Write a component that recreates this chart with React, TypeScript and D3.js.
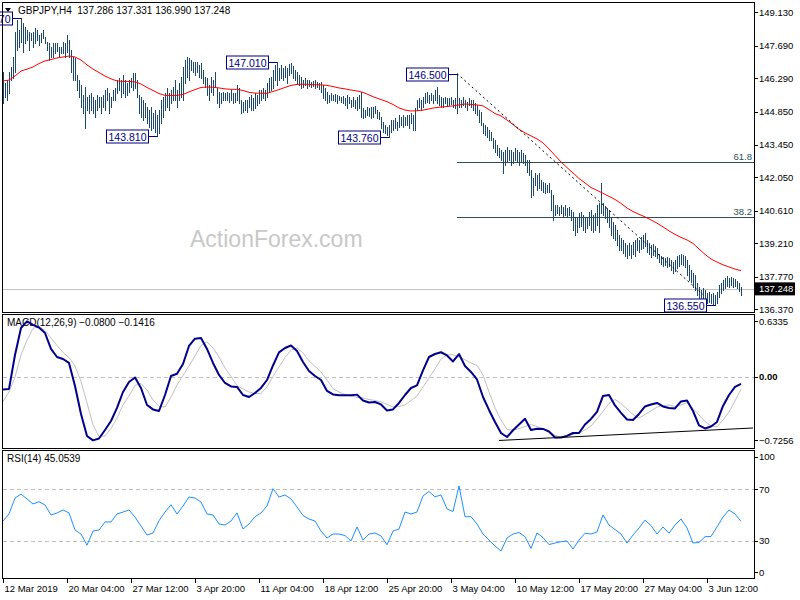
import React, { useEffect, useRef } from 'react';
import * as d3 from 'd3';

const W = 800;
const H = 600;
const STEP = 3; // indicator lines are read every 3 bars
const FONT = 'Liberation Sans, Arial, sans-serif';

// GBPJPY H4 bars, 12 Mar 20:00 .. 6 Jun 08:00
const barHigh = [
  146.56, 146.09, 146.22, 146.56, 146.78, 147.21, 148.28, 148.8, 148.37, 148.87,
  148.67, 148.5, 148.37, 148.28, 148.24, 148.28, 148.46, 148.37, 148.16, 148.24,
  148.37, 148.07, 147.85, 147.81, 147.64, 147.81, 147.81, 147.81, 147.64, 147.64,
  147.85, 147.81, 148.16, 147.94, 147.51, 147.21, 147.17, 146.44, 146.22, 146.01,
  145.58, 145.92, 145.49, 145.58, 145.66, 145.49, 145.36, 145.58, 145.49, 145.49,
  145.58, 145.79, 145.88, 145.66, 145.49, 145.79, 145.88, 146.22, 146.31, 146.22,
  146.44, 146.22, 146.09, 146.22, 146.31, 146.52, 146.52, 146.22, 145.58, 145.49,
  145.36, 145.23, 145.06, 144.93, 145.06, 144.8, 144.93, 144.72, 144.93, 145.36,
  145.49, 145.66, 145.88, 145.66, 145.79, 145.92, 146.22, 145.79, 146.09, 146.35,
  146.78, 147.08, 147.21, 147.17, 147.08, 146.99, 146.99, 146.99, 146.87, 146.95,
  146.65, 146.35, 146.31, 146.01, 146.35, 146.22, 146.56, 145.88, 145.7, 145.66,
  145.7, 145.66, 145.7, 145.66, 145.79, 145.66, 145.66, 146.01, 145.88, 145.36,
  145.27, 145.36, 145.36, 145.49, 145.58, 145.45, 145.66, 145.58, 145.79, 145.79,
  145.88, 145.79, 146.09, 146.31, 146.35, 146.65, 146.87, 147.01, 146.74, 146.87,
  146.74, 146.82, 146.74, 146.91, 146.95, 146.82, 146.65, 146.56, 146.44, 146.35,
  146.22, 146.31, 146.22, 146.22, 146.13, 146.18, 146.22, 146.13, 146.09, 146.13,
  146.01, 145.88, 145.7, 145.58, 145.66, 145.58, 145.62, 145.58, 145.53, 145.49,
  145.53, 145.45, 145.58, 145.49, 145.36, 145.49, 145.36, 145.49, 145.58, 145.7,
  145.02, 144.93, 145.06, 145.02, 145.06, 145.06, 145.1, 144.93, 144.84, 144.63,
  144.41, 144.29, 144.2, 144.29, 144.5, 144.5, 144.59, 144.41, 144.72, 144.63,
  144.72, 144.63, 144.72, 144.72, 144.8, 144.72, 145.02, 145.36, 145.45, 145.36,
  145.49, 145.66, 145.7, 145.58, 145.66, 145.58, 145.79, 145.92, 145.58, 145.49,
  145.45, 145.49, 145.45, 145.45, 145.49, 145.36, 145.45, 146.5, 145.45, 145.36,
  145.49, 145.36, 145.27, 145.45, 145.36, 145.36, 145.23, 145.15, 144.93, 144.84,
  144.37, 144.29, 144.2, 144.07, 143.98, 143.73, 143.64, 143.43, 143.3, 143.21,
  143.12, 143.21, 143.34, 143.21, 143.21, 143.12, 143.3, 143.21, 143.12, 143.21,
  143.08, 143.0, 142.78, 142.78, 142.35, 142.01, 142.22, 142.14, 142.22, 141.92,
  141.83, 141.79, 141.71, 141.79, 141.49, 141.28, 140.85, 140.85, 140.76, 140.85,
  140.76, 140.85, 140.72, 140.76, 140.63, 140.54, 140.33, 140.29, 140.5, 140.54,
  140.42, 140.33, 140.29, 140.54, 140.63, 140.42, 140.5, 140.85, 140.93, 141.79,
  140.93, 140.8, 140.72, 140.63, 140.29, 140.11, 139.99, 139.77, 139.56, 139.43,
  139.34, 139.21, 139.13, 139.21, 139.13, 139.25, 139.34, 139.43, 139.34, 139.47,
  139.56, 139.64, 139.34, 139.21, 139.13, 139.17, 139.08, 139.0, 138.74, 138.65,
  138.61, 138.57, 138.61, 138.57, 138.48, 138.39, 138.48, 138.65, 138.7, 138.74,
  138.7, 138.65, 138.48, 138.27, 138.05, 137.92, 137.84, 137.49, 137.32, 137.19,
  137.28, 137.19, 137.06, 137.1, 137.02, 137.06, 136.98, 137.1, 137.41, 137.49,
  137.62, 137.71, 137.79, 137.71, 137.75, 137.71, 137.66, 137.58, 137.49, 137.331,
];

const barLow = [
  145.23, 145.49, 145.36, 145.66, 146.22, 146.31, 146.56, 147.51, 147.64, 147.85,
  147.42, 147.81, 147.94, 147.51, 147.94, 147.64, 147.81, 147.94, 147.73, 147.85,
  148.03, 147.81, 147.51, 147.08, 147.21, 147.21, 147.38, 147.47, 147.21, 147.38,
  147.38, 147.21, 147.42, 147.21, 146.56, 146.22, 146.22, 145.79, 145.49, 145.06,
  144.8, 144.16, 144.93, 144.8, 144.93, 144.8, 144.63, 144.93, 145.06, 144.8,
  145.06, 144.93, 145.36, 144.8, 145.06, 145.36, 145.36, 145.66, 145.79, 145.49,
  145.66, 145.49, 145.58, 145.7, 145.92, 145.79, 145.88, 145.49, 144.8, 144.63,
  144.5, 144.63, 144.37, 144.2, 144.07, 144.16, 143.98, 143.81, 143.94, 144.37,
  144.63, 144.93, 145.06, 144.93, 145.23, 145.36, 145.36, 145.06, 145.36, 145.49,
  145.36, 146.09, 146.35, 146.22, 146.65, 146.56, 146.44, 146.56, 146.35, 146.31,
  146.09, 145.92, 145.58, 145.36, 145.7, 145.58, 145.92, 145.23, 145.06, 145.23,
  145.36, 145.36, 145.36, 145.27, 145.36, 145.23, 145.27, 145.36, 145.23, 144.8,
  144.84, 144.93, 144.84, 145.06, 144.93, 144.93, 145.02, 145.15, 145.23, 145.36,
  145.45, 145.36, 145.49, 145.7, 145.79, 145.88, 146.22, 146.01, 146.22, 146.31,
  146.22, 146.35, 146.09, 146.44, 146.52, 146.31, 146.22, 146.09, 146.01, 145.88,
  145.92, 146.01, 145.88, 145.96, 145.92, 145.96, 145.88, 145.92, 145.83, 145.7,
  145.45, 145.36, 145.23, 145.27, 145.36, 145.36, 145.32, 145.23, 145.36, 145.27,
  145.23, 145.15, 145.02, 145.23, 145.06, 145.1, 145.02, 144.93, 145.02, 144.63,
  144.59, 144.63, 144.72, 144.67, 144.59, 144.63, 144.8, 144.59, 144.54, 144.16,
  143.98, 143.94, 143.86, 143.76, 143.98, 144.07, 144.16, 144.07, 144.2, 144.29,
  144.2, 144.29, 144.29, 144.16, 144.37, 144.07, 144.07, 144.93, 145.06, 144.93,
  145.06, 145.23, 145.27, 145.23, 145.36, 145.23, 145.36, 145.23, 145.15, 145.06,
  145.06, 145.23, 145.15, 145.15, 145.19, 145.06, 145.02, 144.8, 145.06, 145.06,
  145.15, 145.06, 144.93, 145.15, 145.06, 144.93, 144.8, 144.72, 144.41, 144.29,
  143.94, 143.86, 143.77, 143.64, 143.64, 143.3, 143.12, 143.0, 142.91, 142.78,
  142.22, 142.57, 142.69, 142.78, 142.57, 142.65, 142.78, 142.69, 142.57, 142.69,
  142.65, 142.57, 142.26, 142.14, 141.19, 141.28, 141.71, 141.49, 141.58, 141.49,
  141.4, 141.36, 141.4, 141.4, 140.63, 140.2, 140.42, 140.5, 140.42, 140.5,
  140.33, 140.42, 140.33, 140.42, 140.2, 139.77, 139.56, 139.68, 139.9, 139.94,
  139.77, 139.68, 139.86, 139.99, 139.77, 139.68, 139.77, 139.99, 139.68, 140.5,
  140.42, 140.29, 140.11, 139.9, 139.56, 139.43, 139.34, 139.13, 138.91, 138.91,
  138.78, 138.65, 138.57, 138.7, 138.57, 138.74, 138.65, 138.91, 138.82, 138.95,
  138.99, 139.08, 138.82, 138.74, 138.61, 138.7, 138.65, 138.57, 138.39, 138.31,
  138.22, 138.27, 138.18, 138.22, 138.05, 137.92, 138.01, 138.14, 138.22, 138.31,
  138.27, 138.18, 137.84, 137.62, 137.53, 137.32, 137.19, 136.98, 136.85, 136.76,
  136.67, 136.76, 136.63, 136.67, 136.63, 136.59, 136.55, 136.63, 136.89, 137.06,
  137.19, 137.28, 137.36, 137.32, 137.41, 137.32, 137.36, 137.28, 137.15, 136.99,
];

const lastBar = { open: 137.286, high: 137.331, low: 136.99, close: 137.248 };

// moving average (red), every STEP bars
const maLine = [
  146.18, 146.22, 146.39, 146.61, 146.69, 146.78, 146.93, 147.04, 147.1, 147.17,
  147.21, 147.25, 147.21, 147.08, 146.87, 146.69, 146.54, 146.39, 146.27, 146.18,
  146.16, 146.16, 146.14, 146.05, 145.9, 145.77, 145.64, 145.56, 145.56, 145.56,
  145.6, 145.71, 145.81, 145.9, 145.92, 145.91, 145.88, 145.84, 145.82, 145.82,
  145.77, 145.69, 145.66, 145.65, 145.65, 145.73, 145.81, 145.9, 145.99, 146.03,
  146.04, 146.03, 146.02, 146.01, 145.99, 145.94, 145.88, 145.84, 145.79, 145.75,
  145.69, 145.58, 145.47, 145.38, 145.29, 145.17, 145.02, 144.93, 144.89, 144.9,
  144.93, 144.98, 145.03, 145.06, 145.08, 145.11, 145.15, 145.19, 145.17, 145.15,
  145.11, 144.95, 144.78, 144.68, 144.5, 144.31, 144.1, 143.95, 143.82, 143.69,
  143.52, 143.26, 142.98, 142.7, 142.46, 142.23, 141.99, 141.8, 141.6, 141.48,
  141.35, 141.22, 141.09, 140.92, 140.72, 140.57, 140.45, 140.34, 140.21, 140.07,
  139.91, 139.74, 139.59, 139.46, 139.35, 139.2, 138.96, 138.73, 138.53, 138.4,
  138.28, 138.19, 138.1, 138.03,
];

const macdMain = [
  -0.145, -0.139, 0.249, 0.557, 0.633, 0.592, 0.563, 0.5, 0.318, 0.226,
  0.203, 0.158, -0.105, -0.425, -0.676, -0.726, -0.705, -0.608, -0.505, -0.356,
  -0.174, -0.059, -0.008, -0.128, -0.322, -0.373, -0.391, -0.208, 0.009, 0.035,
  0.146, 0.352, 0.435, 0.443, 0.318, 0.158, 0.021, -0.071, -0.111, -0.116,
  -0.208, -0.231, -0.185, -0.128, -0.037, 0.129, 0.278, 0.329, 0.357, 0.295,
  0.169, 0.066, 0.009, -0.037, -0.162, -0.202, -0.211, -0.211, -0.211, -0.204,
  -0.271, -0.294, -0.288, -0.316, -0.385, -0.373, -0.299, -0.208, -0.128, -0.099,
  0.072, 0.226, 0.26, 0.28, 0.243, 0.175, 0.26, 0.123, 0.055, -0.031,
  -0.231, -0.379, -0.516, -0.642, -0.688, -0.611, -0.545, -0.479, -0.608, -0.593,
  -0.596, -0.625, -0.693, -0.693, -0.676, -0.642, -0.642, -0.545, -0.482, -0.402,
  -0.219, -0.208, -0.328, -0.413, -0.488, -0.493, -0.425, -0.339, -0.316, -0.299,
  -0.339, -0.356, -0.362, -0.282, -0.271, -0.391, -0.556, -0.59, -0.568, -0.516,
  -0.333, -0.208, -0.116, -0.08,
];

const macdSignal = [
  -0.282, -0.174, -0.002, 0.249, 0.42, 0.552, 0.574, 0.529, 0.443, 0.357,
  0.278, 0.22, 0.123, -0.054, -0.299, -0.55, -0.682, -0.676, -0.59, -0.471,
  -0.322, -0.219, -0.099, -0.077, -0.151, -0.265, -0.339, -0.345, -0.231, -0.094,
  0.015, 0.123, 0.238, 0.357, 0.397, 0.329, 0.226, 0.101, 0.003, -0.099,
  -0.139, -0.174, -0.191, -0.191, -0.116, 0.003, 0.112, 0.22, 0.306, 0.329,
  0.272, 0.18, 0.118, 0.055, -0.037, -0.136, -0.174, -0.202, -0.219, -0.236,
  -0.242, -0.259, -0.271, -0.286, -0.316, -0.345, -0.339, -0.322, -0.271, -0.219,
  -0.116, -0.014, 0.089, 0.203, 0.249, 0.252, 0.226, 0.195, 0.158, 0.129,
  0.021, -0.174, -0.356, -0.493, -0.602, -0.608, -0.593, -0.568, -0.547, -0.568,
  -0.59, -0.625, -0.67, -0.685, -0.674, -0.659, -0.642, -0.608, -0.562, -0.482,
  -0.396, -0.305, -0.259, -0.305, -0.368, -0.431, -0.471, -0.431, -0.391, -0.345,
  -0.328, -0.322, -0.339, -0.322, -0.296, -0.362, -0.436, -0.511, -0.562, -0.573,
  -0.493, -0.402, -0.276, -0.1416,
];

const rsiLine = [
  45.3, 50.8, 63.2, 66.3, 62.5, 58.6, 60.3, 57.8, 50.0, 51.6,
  53.9, 51.6, 38.3, 35.2, 26.5, 37.5, 38.3, 44.6, 44.6, 50.8,
  52.3, 53.9, 48.4, 41.4, 34.4, 36.0, 45.5, 52.3, 58.0, 50.8,
  57.0, 64.0, 63.2, 60.1, 50.8, 50.0, 43.0, 42.2, 45.3, 51.6,
  39.1, 43.0, 48.7, 51.6, 57.0, 70.5, 64.0, 65.6, 62.5, 56.2,
  49.6, 46.9, 45.3, 37.5, 32.1, 35.2, 35.2, 34.0, 29.8, 40.7,
  30.5, 35.2, 36.0, 33.7, 26.8, 37.5, 39.1, 52.3, 50.8, 52.3,
  64.8, 68.3, 64.2, 65.6, 54.7, 52.7, 72.6, 48.7, 48.7, 43.0,
  35.2, 30.5, 25.9, 22.0, 32.1, 35.2, 36.4, 33.1, 24.0, 36.0,
  32.5, 27.0, 28.2, 29.2, 29.8, 23.5, 30.5, 35.8, 35.2, 36.8,
  50.0, 42.2, 38.7, 35.2, 28.2, 34.4, 39.9, 46.0, 41.8, 35.2,
  40.7, 35.8, 42.2, 46.9, 39.9, 28.2, 28.6, 33.1, 33.3, 40.7,
  48.4, 53.9, 50.8, 45.0539,
];

const priceTicks = [149.13, 147.69, 146.29, 144.85, 143.45, 142.05, 140.61, 139.21, 137.77, 136.37];
const macdTicks = [0.6335, 0, -0.7256];
const rsiTicks = [100, 70, 30, 0];
const rsiLevels = [70, 30];

const timeLabels = [
  '12 Mar 2019', '20 Mar 04:00', '27 Mar 12:00', '3 Apr 20:00', '11 Apr 04:00', '18 Apr 12:00',
  '25 Apr 20:00', '3 May 04:00', '10 May 12:00', '17 May 20:00', '27 May 04:00', '3 Jun 12:00',
];
const timeLabelBars = [0, 32, 64, 96, 128, 160, 192, 224, 256, 288, 320, 352];

const swingBars = [9, 77, 137, 193, 227, 356];
const swingPrices = [148.87, 143.81, 147.01, 143.76, 146.5, 136.55];

const fibLevels = [61.8, 38.2];
const fibStartBar = 227;
const trendLine: [number, number][] = [[227, 146.5], [350, 137.0]];
const macdSupport: [number, number][] = [[248, -0.7275], [375, -0.585]];

export default function App() {
  const ref = useRef<SVGSVGElement>(null);

  useEffect(() => {
    if (!ref.current) return;
    const svg = d3.select(ref.current);
    svg.selectAll('*').remove();

    const x = d3.scaleLinear().domain([0, barHigh.length - 1]).range([3, 741]);
    const yP = d3.scaleLinear().domain([149.13, 136.37]).range([12.3, 309.3]);
    const yM = d3.scaleLinear().domain([0.6335, -0.7256]).range([321.3, 440.3]);
    const yR = d3.scaleLinear().domain([100, 0]).range([450.75, 579.25]);

    svg.append('rect').attr('width', W).attr('height', H).attr('fill', '#fff');

    const defs = svg.append('defs');
    const clip = (id: string, x0: number, y0: number, y1: number) =>
      defs.append('clipPath').attr('id', id).append('rect')
        .attr('x', x0).attr('y', y0).attr('width', 754 - x0).attr('height', y1 - y0);
    clip('cMain', 3, 3, 312);
    clip('cLabels', 0, 3, 312);
    clip('cMacd', 3, 315, 448);
    clip('cRsi', 3, 451, 578);

    // ---- main pane
    const main = svg.append('g').attr('clip-path', 'url(#cMain)');

    main.append('text')
      .attr('x', 190).attr('y', 247)
      .attr('font-family', FONT).attr('font-size', 23)
      .attr('fill', '#c8c8c8')
      .text('ActionForex.com');

    const cy = Math.round(yP(lastBar.close)) + 0.5;
    main.append('line')
      .attr('x1', 2).attr('x2', 754).attr('y1', cy).attr('y2', cy)
      .attr('stroke', '#c0c0c0');

    const hiP = swingPrices[4];
    const loP = swingPrices[5];
    fibLevels.forEach((lv) => {
      const fy = Math.round(yP(loP + ((hiP - loP) * lv) / 100)) + 0.5;
      main.append('line')
        .attr('x1', x(fibStartBar)).attr('x2', 754).attr('y1', fy).attr('y2', fy)
        .attr('stroke', '#2f4f4f');
      main.append('text')
        .attr('x', 752).attr('y', fy - 3)
        .attr('text-anchor', 'end')
        .attr('font-family', FONT).attr('font-size', 9.5)
        .attr('fill', '#2f4f4f')
        .text(lv.toFixed(1));
    });

    main.append('g').selectAll('rect')
      .data(barHigh)
      .join('rect')
      .attr('x', (_, i) => Math.round(x(i)))
      .attr('width', 1)
      .attr('y', (d) => Math.round(yP(d)))
      .attr('height', (d, i) => Math.max(1, Math.round(yP(barLow[i])) - Math.round(yP(d)) + 1))
      .attr('fill', '#1b4a68')
      .attr('shape-rendering', 'crispEdges');

    const maPath = d3.line<number>().x((_, k) => x(k * STEP)).y((d) => yP(d));
    main.append('path')
      .attr('d', maPath(maLine) ?? '')
      .attr('fill', 'none').attr('stroke', '#ff0000').attr('stroke-width', 1);

    main.append('line')
      .attr('x1', x(trendLine[0][0])).attr('y1', yP(trendLine[0][1]))
      .attr('x2', x(trendLine[1][0])).attr('y2', yP(trendLine[1][1]))
      .attr('stroke', '#000').attr('stroke-dasharray', '2,3');

    const labels = svg.append('g').attr('clip-path', 'url(#cLabels)');
    swingBars.forEach((b, i) => {
      const bx = Math.round(x(b)) + 0.5;
      const by = Math.round(yP(swingPrices[i])) + 0.5;
      const right = bx - 9;
      labels.append('line')
        .attr('x1', right).attr('x2', bx).attr('y1', by).attr('y2', by)
        .attr('stroke', '#000080');
      labels.append('rect')
        .attr('x', right - 42).attr('y', by - 6.5).attr('width', 42).attr('height', 13)
        .attr('fill', '#fff').attr('stroke', '#000080');
      labels.append('text')
        .attr('x', right - 21).attr('y', by + 4)
        .attr('text-anchor', 'middle')
        .attr('font-family', FONT).attr('font-size', 10.5)
        .attr('fill', '#000080')
        .text(d3.format('.3f')(swingPrices[i]));
    });

    svg.append('path').attr('d', 'M5,8 L11,8 L8,12 Z').attr('fill', '#000');
    svg.append('text')
      .attr('x', 18).attr('y', 14)
      .attr('font-family', FONT).attr('font-size', 10)
      .attr('fill', '#000')
      .attr('xml:space', 'preserve')
      .text(`GBPJPY,H4  ${[lastBar.open, lastBar.high, lastBar.low, lastBar.close].map(d3.format('.3f')).join(' ')}`);

    // ---- MACD pane
    const mg = svg.append('g');
    mg.append('text')
      .attr('x', 7).attr('y', 326)
      .attr('font-family', FONT).attr('font-size', 10)
      .attr('fill', '#000')
      .text(`MACD(12,26,9) ${d3.format('.4f')(macdMain[macdMain.length - 1])} ${d3.format('.4f')(macdSignal[macdSignal.length - 1])}`);
    const mc = mg.append('g').attr('clip-path', 'url(#cMacd)');
    const zy = Math.round(yM(0)) + 0.5;
    mc.append('line')
      .attr('x1', 3).attr('x2', 754).attr('y1', zy).attr('y2', zy)
      .attr('stroke', '#c0c0c0').attr('stroke-dasharray', '4,3');
    const mPath = d3.line<number>().x((_, k) => x(k * STEP)).y((d) => yM(d));
    mc.append('path')
      .attr('d', mPath(macdSignal) ?? '')
      .attr('fill', 'none').attr('stroke', '#c0c0c0').attr('stroke-width', 1);
    mc.append('path')
      .attr('d', mPath(macdMain) ?? '')
      .attr('fill', 'none').attr('stroke', '#00008b').attr('stroke-width', 2)
      .attr('stroke-linejoin', 'round');
    mc.append('line')
      .attr('x1', x(macdSupport[0][0])).attr('y1', yM(macdSupport[0][1]))
      .attr('x2', x(macdSupport[1][0])).attr('y2', yM(macdSupport[1][1]))
      .attr('stroke', '#000').attr('stroke-width', 1);

    // ---- RSI pane
    const rg = svg.append('g');
    rg.append('text')
      .attr('x', 7).attr('y', 462)
      .attr('font-family', FONT).attr('font-size', 10)
      .attr('fill', '#000')
      .text(`RSI(14) ${d3.format('.4f')(rsiLine[rsiLine.length - 1])}`);
    const rc = rg.append('g').attr('clip-path', 'url(#cRsi)');
    rsiLevels.forEach((lv) => {
      const ly = Math.round(yR(lv)) + 0.5;
      rc.append('line')
        .attr('x1', 3).attr('x2', 754).attr('y1', ly).attr('y2', ly)
        .attr('stroke', '#c0c0c0').attr('stroke-dasharray', '4,3');
    });
    const rPath = d3.line<number>().x((_, k) => x(k * STEP)).y((d) => yR(d));
    rc.append('path')
      .attr('d', rPath(rsiLine) ?? '')
      .attr('fill', 'none').attr('stroke', '#1e90ff').attr('stroke-width', 1);

    // ---- pane frames
    [[2.5, 312.5], [314.5, 448.5], [450.5, 578.5]].forEach(([a, b]) => {
      svg.append('rect')
        .attr('x', 2.5).attr('y', a).attr('width', 752).attr('height', b - a)
        .attr('fill', 'none').attr('stroke', '#000');
    });

    // ---- right axis
    const axisText = (y: number, t: string, bold = false) => {
      svg.append('line').attr('x1', 754.5).attr('x2', 758).attr('y1', Math.round(y) + 0.5).attr('y2', Math.round(y) + 0.5).attr('stroke', '#000');
      svg.append('text')
        .attr('x', 759).attr('y', y + 3.5)
        .attr('font-family', FONT).attr('font-size', 9.5)
        .attr('font-weight', bold ? 'bold' : 'normal')
        .attr('fill', '#000')
        .text(t);
    };
    priceTicks.forEach((p) => axisText(yP(p), d3.format('.3f')(p)));
    macdTicks.forEach((v) => axisText(yM(v), v === 0 ? '0.00' : d3.format('.4f')(v), v === 0));
    const rsiLabelY = [456.7, 489.3, 540.7, 572.3];
    rsiTicks.forEach((v, i) => axisText(v === 100 || v === 0 ? rsiLabelY[i] : yR(v), String(v)));

    const py = yP(lastBar.close);
    svg.append('rect')
      .attr('x', 755).attr('y', py - 6.5).attr('width', 40).attr('height', 13)
      .attr('fill', '#000');
    svg.append('text')
      .attr('x', 759).attr('y', py + 3.5)
      .attr('font-family', FONT).attr('font-size', 9.5)
      .attr('fill', '#fff')
      .text(d3.format('.3f')(lastBar.close));

    // ---- time axis
    timeLabelBars.forEach((b, i) => {
      const tx = Math.round(x(b)) + 0.5;
      svg.append('line').attr('x1', tx).attr('x2', tx).attr('y1', 578.5).attr('y2', 583).attr('stroke', '#000');
      svg.append('text')
        .attr('x', tx + 1).attr('y', 592)
        .attr('font-family', FONT).attr('font-size', 9.5)
        .attr('fill', '#000')
        .text(timeLabels[i]);
    });
  }, []);

  return (
    <svg
      ref={ref}
      width={W}
      height={H}
      style={{ position: 'absolute', left: 0, top: 0, display: 'block' }}
    />
  );
}
